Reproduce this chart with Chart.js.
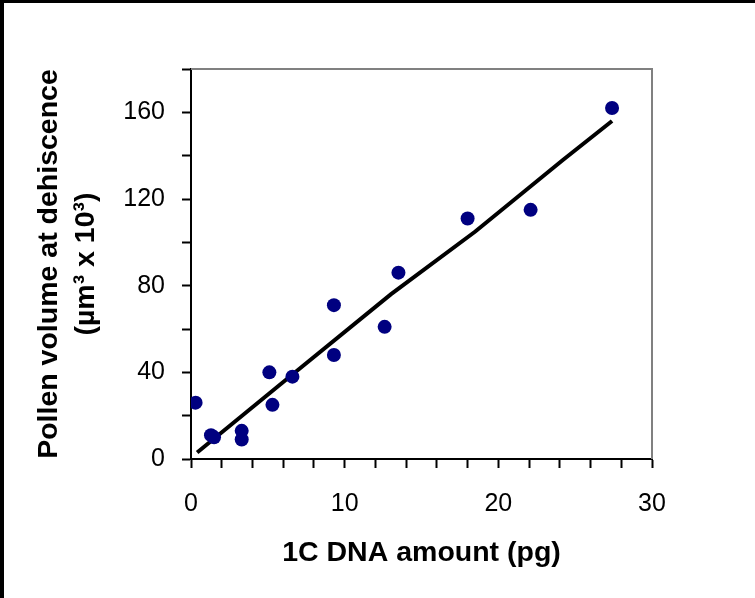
<!DOCTYPE html>
<html>
<head>
  <title>Pollen volume vs 1C DNA</title>
  <script src="https://cdn.jsdelivr.net/npm/chart.js"></script>
  <style>
    body { margin: 0; background: #fff; }
    canvas { display: block; }
  </style>
</head>
<body>
  <canvas id="pollenChart" width="755" height="598"></canvas>

  <script>
    // values
    const dnaAmount = [0.3, 1.3, 1.5, 3.3, 3.3, 5.1, 5.3, 6.6, 9.3, 9.3, 12.6, 13.5, 18.0, 22.1, 27.4];
    const pollenVolume = [26, 11, 10, 13, 9, 40, 25, 38, 71, 48, 61, 86, 111, 115, 162];

    // fitted line as drawn
    const fitX = [0.4, 6.6, 13.0, 18.5, 24.2, 27.4];
    const fitY = [3, 39, 76, 105, 138, 156];

    const xTickLabels = [0, 10, 20, 30];
    const yTickLabels = [0, 40, 80, 120, 160];

    const framePlugin = {
      id: "frame",
      afterDraw(chart) {
        const { ctx, chartArea: a } = chart;
        ctx.save();
        ctx.strokeStyle = "#808080";
        ctx.lineWidth = 2;
        ctx.beginPath();
        ctx.moveTo(a.left, a.top);
        ctx.lineTo(a.right, a.top);
        ctx.lineTo(a.right, a.bottom);
        ctx.stroke();
        ctx.fillStyle = "#000";
        ctx.fillRect(0, 0, chart.width, 3);
        ctx.fillRect(0, 0, 4, chart.height);
        ctx.restore();
      }
    };

    const ctx = document.getElementById("pollenChart").getContext("2d");

    new Chart(ctx, {
      type: "scatter",
      data: {
        datasets: [
          {
            label: "fit",
            data: fitX.map((x, i) => ({ x: x, y: fitY[i] })),
            showLine: true,
            borderColor: "#000",
            borderWidth: 4,
            pointRadius: 0,
            tension: 0,
            order: 1
          },
          {
            label: "species",
            data: dnaAmount.map((x, i) => ({ x: x, y: pollenVolume[i] })),
            backgroundColor: "#000080",
            borderWidth: 0,
            pointRadius: 7,
            order: 0
          }
        ]
      },
      options: {
        responsive: false,
        animation: false,
        devicePixelRatio: 1,
        layout: { padding: { left: 0, top: 69, right: 103, bottom: 0 } },
        plugins: { legend: { display: false }, tooltip: { enabled: false } },
        scales: {
          x: {
            type: "linear",
            min: 0, max: 30,
            afterFit: s => { s.height = 139; },
            border: { color: "#000", width: 2 },
            grid: { drawOnChartArea: false, color: "#000", tickLength: 9, tickWidth: 2 },
            ticks: {
              stepSize: 2,
              padding: 21,
              color: "#000",
              maxRotation: 0,
              autoSkip: false,
              font: { family: "'Liberation Sans', Arial", size: 25 },
              callback: v => xTickLabels.includes(v) ? String(v) : ""
            },
            title: {
              display: true,
              text: "1C DNA amount (pg)",
              color: "#000",
              padding: { bottom: 28 },
              font: { family: "'Liberation Sans', Arial", size: 28.5, weight: "bold" }
            }
          },
          y: {
            min: 0, max: 180,
            afterFit: s => { s.width = 191; },
            border: { color: "#000", width: 2 },
            grid: { drawOnChartArea: false, color: "#000", tickLength: 9, tickWidth: 2 },
            ticks: {
              stepSize: 20,
              padding: 17,
              color: "#000",
              autoSkip: false,
              font: { family: "'Liberation Sans', Arial", size: 25 },
              callback: v => yTickLabels.includes(v) ? String(v) : ""
            },
            title: {
              display: true,
              text: ["Pollen volume at dehiscence", "(\u00b5m\u00b3 x 10\u00b3)"],
              color: "#000",
              padding: { top: 31 },
              font: { family: "'Liberation Sans', Arial", size: 28.5, weight: "bold", lineHeight: 1.3 }
            }
          }
        }
      },
      plugins: [framePlugin]
    });
  </script>
</body>
</html>
